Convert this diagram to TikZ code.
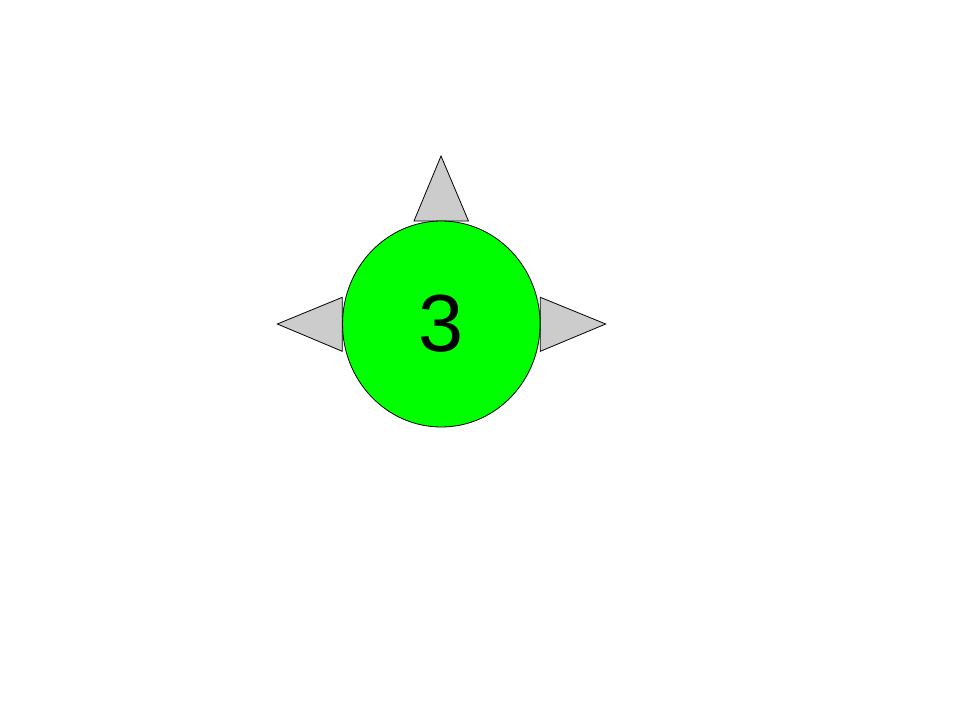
\documentclass[tikz,border=0pt]{standalone}
\usepackage{fontspec}
\setmainfont{Liberation Sans}
\usetikzlibrary{shapes.geometric}
\definecolor{ballgreen}{RGB}{0,255,0}
\definecolor{spikegray}{RGB}{204,204,204}
\begin{document}
\begin{tikzpicture}[x=1pt,y=-1pt,
  spike/.style={draw=black,fill=spikegray,line width=0.8pt,line join=miter},
  ball/.style={ellipse,draw=black,fill=ballgreen,line width=0.8pt,minimum width=197.5pt,minimum height=206pt,inner sep=0pt,font=\fontsize{81}{81}\selectfont}]
\useasboundingbox (0,0) rectangle (960,720);
\draw[spike] (414,221) -- (441,156) -- (468.5,221) -- cycle;
\draw[spike] (342.3,297.3) -- (277.3,324) -- (342.3,351.3) -- cycle;
\draw[spike] (540.3,297.3) -- (605.7,324) -- (540.3,351.3) -- cycle;
\node[ball] (b) at (441.3,324) {3};
\end{tikzpicture}
\end{document}
